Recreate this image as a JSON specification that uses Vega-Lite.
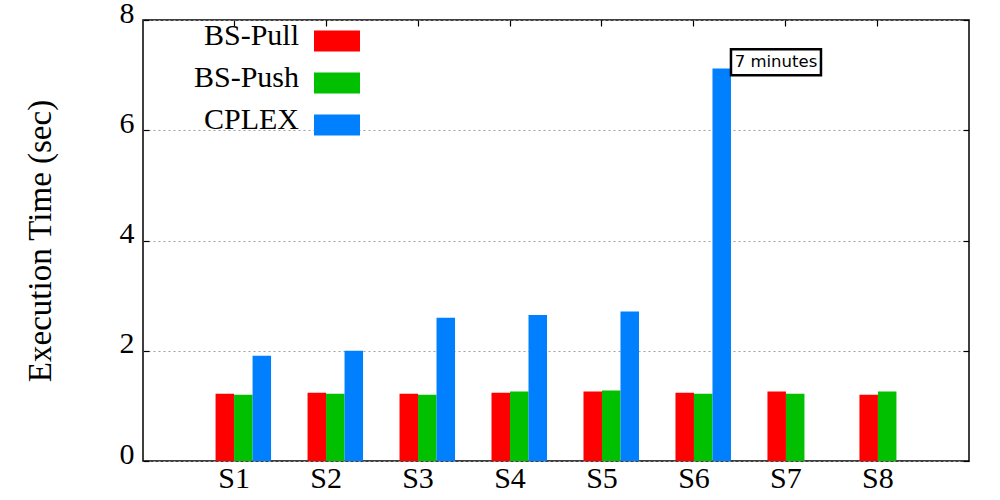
{
  "$schema": "https://vega.github.io/schema/vega-lite/v6.json",
  "width": 826,
  "height": 441,
  "padding": {"left": 143, "top": 20, "right": 31, "bottom": 39},
  "autosize": {"type": "none"},
  "background": "white",
  "config": {
    "view": {"stroke": "black", "strokeWidth": 1.5},
    "font": "Liberation Serif"
  },
  "datasets": {
    "times": [
      {"scenario": "S1", "method": "BS-Pull", "sec": 1.22},
      {"scenario": "S1", "method": "BS-Push", "sec": 1.2},
      {"scenario": "S1", "method": "CPLEX", "sec": 1.91},
      {"scenario": "S2", "method": "BS-Pull", "sec": 1.24},
      {"scenario": "S2", "method": "BS-Push", "sec": 1.22},
      {"scenario": "S2", "method": "CPLEX", "sec": 2.0},
      {"scenario": "S3", "method": "BS-Pull", "sec": 1.22},
      {"scenario": "S3", "method": "BS-Push", "sec": 1.2},
      {"scenario": "S3", "method": "CPLEX", "sec": 2.6},
      {"scenario": "S4", "method": "BS-Pull", "sec": 1.24},
      {"scenario": "S4", "method": "BS-Push", "sec": 1.26},
      {"scenario": "S4", "method": "CPLEX", "sec": 2.65},
      {"scenario": "S5", "method": "BS-Pull", "sec": 1.26},
      {"scenario": "S5", "method": "BS-Push", "sec": 1.28},
      {"scenario": "S5", "method": "CPLEX", "sec": 2.71},
      {"scenario": "S6", "method": "BS-Pull", "sec": 1.24},
      {"scenario": "S6", "method": "BS-Push", "sec": 1.22},
      {"scenario": "S6", "method": "CPLEX", "sec": 7.12},
      {"scenario": "S7", "method": "BS-Pull", "sec": 1.26},
      {"scenario": "S7", "method": "BS-Push", "sec": 1.22},
      {"scenario": "S8", "method": "BS-Pull", "sec": 1.2},
      {"scenario": "S8", "method": "BS-Push", "sec": 1.26}
    ],
    "note": [
      {"scenario": "S6", "label": "7 minutes", "lo": 7.0, "hi": 7.47, "mid": 7.23}
    ]
  },
  "layer": [
    {
      "data": {"name": "times"},
      "mark": {"type": "bar"},
      "encoding": {
        "x": {
          "field": "scenario", "type": "nominal",
          "scale": {"domain": ["S1","S2","S3","S4","S5","S6","S7","S8"], "paddingInner": 0, "paddingOuter": 0.49},
          "axis": {
            "orient": "bottom", "title": null, "labelAngle": 0, "ticks": false, "domain": false,
            "labelFont": "Liberation Serif", "labelFontSize": 30, "labelColor": "black", "labelPadding": 2
          }
        },
        "xOffset": {
          "field": "method", "type": "nominal",
          "scale": {"domain": ["_", "BS-Pull", "BS-Push", "CPLEX"], "paddingInner": 0, "paddingOuter": 0.486}
        },
        "y": {
          "field": "sec", "type": "quantitative",
          "scale": {"domain": [0, 8], "nice": false},
          "axis": {
            "orient": "left", "values": [0, 2, 4, 6, 8], "domain": false,
            "tickSize": -6, "tickColor": "black", "tickWidth": 1.2,
            "grid": true, "gridDash": [2, 3], "gridColor": "#a0a0a0", "gridWidth": 1,
            "labelFont": "Liberation Serif", "labelFontSize": 30, "labelColor": "black", "labelPadding": 15, "labelOffset": -7,
            "title": "Execution Time (sec)", "titleFont": "Liberation Serif", "titleFontSize": 33,
            "titleFontWeight": "normal", "titleColor": "black", "titlePadding": 62
          }
        },
        "color": {
          "field": "method", "type": "nominal",
          "scale": {"domain": ["BS-Pull", "BS-Push", "CPLEX"], "range": ["#ff0000", "#00c000", "#0080ff"]},
          "legend": {
            "orient": "none", "legendX": 171, "legendY": 1.5, "title": null,
            "symbolType": "M-1,-0.6087H1V0.3043H-1Z", "symbolSize": 2116, "symbolStrokeWidth": 0, "symbolOpacity": 1,
            "labelAlign": "right", "labelBaseline": "alphabetic", "labelOffset": -61, "labelLimit": 0,
            "labelFont": "Liberation Serif", "labelFontSize": 30, "labelColor": "black", "rowPadding": 11
          }
        }
      }
    },
    {
      "data": {"name": "note"},
      "mark": {"type": "bar", "fill": "white", "stroke": "black", "strokeWidth": 2.5, "width": 90, "xOffset": 82},
      "encoding": {
        "x": {
          "field": "scenario", "type": "nominal",
          "axis": {"orient": "top", "title": null, "labels": false, "domain": false, "tickSize": -6, "tickColor": "black", "tickWidth": 1.2}
        },
        "y": {
          "field": "hi", "type": "quantitative",
          "scale": {"domain": [0, 8], "nice": false},
          "axis": {"orient": "right", "title": null, "labels": false, "domain": false, "values": [0, 2, 4, 6, 8], "tickSize": -6, "tickColor": "black", "tickWidth": 1.2, "grid": false}
        },
        "y2": {"field": "lo"}
      }
    },
    {
      "data": {"name": "note"},
      "mark": {"type": "text", "font": "DejaVu Sans", "fontSize": 16.5, "color": "black", "align": "center", "baseline": "middle", "dx": 82},
      "encoding": {
        "x": {"field": "scenario", "type": "nominal", "axis": null},
        "y": {"field": "mid", "type": "quantitative", "axis": null},
        "text": {"field": "label"}
      }
    }
  ],
  "resolve": {"axis": {"x": "independent", "y": "independent"}}
}
